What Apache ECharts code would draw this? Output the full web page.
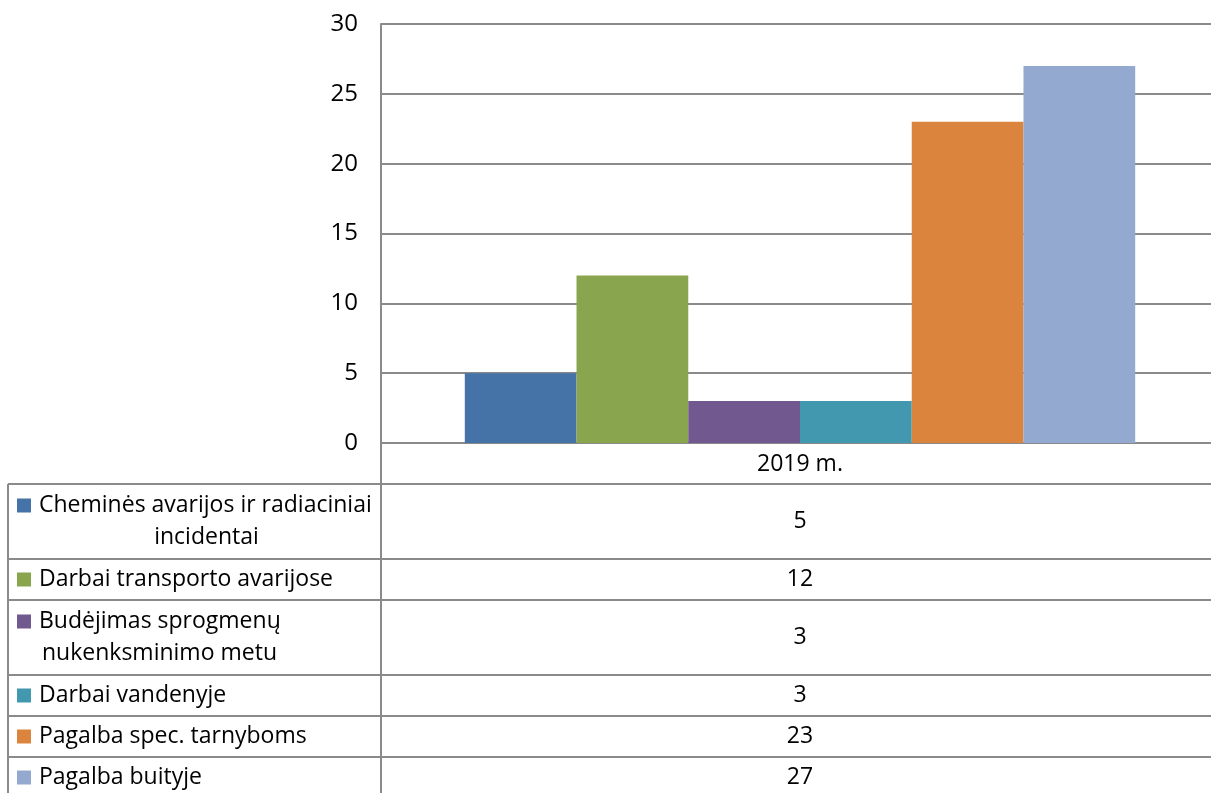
<!DOCTYPE html>
<html>
<head>
<meta charset="utf-8">
<script src="https://cdn.jsdelivr.net/npm/echarts@6/dist/echarts.min.js"></script>
<style>
html,body{margin:0;padding:0;background:#fff;overflow:hidden;width:1211px;height:793px;}
#chart{width:1219px;height:793px;}
</style>
</head>
<body>
<div id="chart"></div>
<script>
// ---- data ----
const categories = ['2019 m.'];
const seriesNames = [
  'Cheminės avarijos ir radiaciniai incidentai',
  'Darbai transporto avarijose',
  'Budėjimas sprogmenų nukenksminimo metu',
  'Darbai vandenyje',
  'Pagalba spec. tarnyboms',
  'Pagalba buityje'
];
const tableLabelLines = [
  ['Cheminės avarijos ir radiaciniai', 'incidentai'],
  ['Darbai transporto avarijose'],
  ['Budėjimas sprogmenų', 'nukenksminimo metu'],
  ['Darbai vandenyje'],
  ['Pagalba spec. tarnyboms'],
  ['Pagalba buityje']
];
const values = [5, 12, 3, 3, 23, 27];
const yMin = 0, yMax = 30, yInterval = 5;

// ---- style ----
const colors = ['#4572A7', '#89A54E', '#71588F', '#4198AF', '#DB843D', '#93A9CF'];
const secondLineAlign = ['center', 'left', 'left', 'left', 'left', 'left'];
const FONT = '"Open Sans", "Noto Sans", sans-serif';
const gridColor = '#8a8a8a';
const gridLeft = 381, gridTop = 24, gridWidth = 838, gridHeight = 419;
const tableLeft = 8, tableTop = 484, canvasW = 1219, canvasH = 793;
const textLeft = 39, textRight = 374, keyLeft = 17, keySize = 14, lineH = 32;

const chart = echarts.init(document.getElementById('chart'), null, {renderer: 'canvas'});

const series = seriesNames.map((name, i) => ({
  name: name,
  type: 'bar',
  data: [values[i]],
  itemStyle: {color: colors[i]},
  barGap: '0%',
  barCategoryGap: '20%'
}));

chart.setOption({
  animation: false,
  backgroundColor: '#fff',
  grid: {left: gridLeft, top: gridTop, width: gridWidth, height: gridHeight, containLabel: false},
  xAxis: {
    type: 'category',
    data: categories,
    axisLine: {show: true, lineStyle: {color: gridColor, width: 2}},
    axisTick: {show: false},
    axisLabel: {fontFamily: FONT, fontSize: 23, color: '#000', margin: 10, lineHeight: 23}
  },
  yAxis: {
    type: 'value',
    min: yMin, max: yMax, interval: yInterval,
    axisLine: {show: true, lineStyle: {color: gridColor, width: 2}},
    axisTick: {show: false},
    splitLine: {show: true, lineStyle: {color: gridColor, width: 2}},
    axisLabel: {fontFamily: FONT, fontSize: 24, color: '#000', margin: 23}
  },
  series: series
});

// ---- data table below the axis ----
const centerX = chart.convertToPixel({xAxisIndex: 0}, categories[0]);
const axisY = chart.convertToPixel({yAxisIndex: 0}, yMin);
const els = [];
const lineStyle = {stroke: gridColor, lineWidth: 2};

// vertical divider continuing the value axis
els.push({type: 'line', shape: {x1: gridLeft, y1: axisY, x2: gridLeft, y2: canvasH}, style: lineStyle, z: 10});
// left border of table
els.push({type: 'line', shape: {x1: tableLeft, y1: tableTop, x2: tableLeft, y2: canvasH}, style: lineStyle, z: 10});

let y = tableTop;
tableLabelLines.forEach((lines, i) => {
  const h = 41 + 34 * (lines.length - 1);
  els.push({type: 'line', shape: {x1: tableLeft, y1: y, x2: canvasW, y2: y}, style: lineStyle, z: 10});
  const mid = y + h / 2;
  const firstY = mid - (lines.length - 1) * lineH / 2;
  // legend key
  els.push({type: 'rect', shape: {x: keyLeft, y: firstY - keySize / 2, width: keySize, height: keySize},
            style: {fill: colors[i]}, z: 10});
  lines.forEach((t, j) => {
    let align = 'left', x = textLeft;
    if (j > 0) {
      align = secondLineAlign[i];
      x = align === 'center' ? (textLeft + textRight) / 2 : textLeft + 3;
    }
    els.push({type: 'text', z: 10, style: {
      text: t, x: x, y: firstY + j * lineH,
      font: '23px ' + FONT, fill: '#000',
      align: align, verticalAlign: 'middle', textAlign: align, textVerticalAlign: 'middle'
    }});
  });
  // value
  els.push({type: 'text', z: 10, style: {
    text: String(series[i].data[0]), x: centerX, y: mid,
    font: '23px ' + FONT, fill: '#000',
    align: 'center', verticalAlign: 'middle', textAlign: 'center', textVerticalAlign: 'middle'
  }});
  y += h;
});
els.push({type: 'line', shape: {x1: tableLeft, y1: y, x2: canvasW, y2: y}, style: lineStyle, z: 10});

chart.setOption({graphic: {elements: els}});
</script>
</body>
</html>
